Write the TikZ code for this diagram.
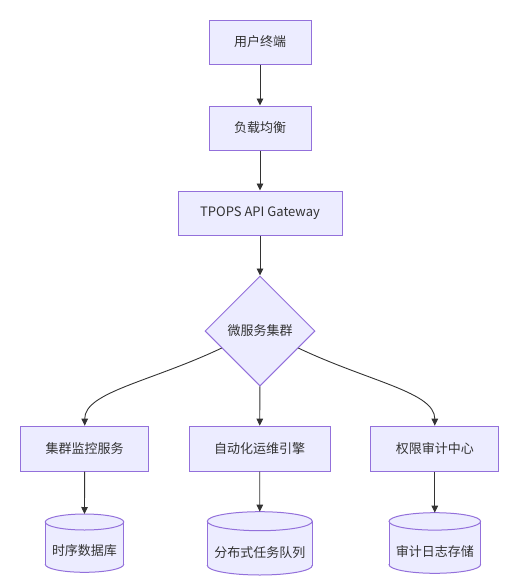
\documentclass[tikz,border=0pt]{standalone}
\usepackage{fontspec}
\setmainfont{Noto Sans CJK SC}
\usetikzlibrary{shapes.geometric,arrows.meta}
\definecolor{nfill}{HTML}{ECECFF}
\definecolor{nstroke}{HTML}{9370DB}
\definecolor{ink}{HTML}{333333}
\tikzset{
  box/.style={draw=nstroke,fill=nfill,line width=1pt,inner sep=0pt,font=\fontsize{13}{15}\selectfont,text=ink},
  dec/.style={diamond,aspect=1,draw=nstroke,fill=nfill,line width=1pt,inner sep=0pt,minimum width=110pt,minimum height=110pt,font=\fontsize{13}{15}\selectfont,text=ink},
  txt/.style={inner sep=0pt,font=\fontsize{13}{15}\selectfont,text=ink},
  link/.style={draw=ink,line width=0.9pt,-{Triangle[length=7pt,width=6.5pt]}},
  cylfill/.style={fill=nfill},
  cylstyle/.style={draw=nstroke,fill=nfill,line width=1pt},
  cylline/.style={draw=nstroke,line width=1pt}
}
\newcommand\mycyl[5]{%
  \fill[cylfill] (#1-#4,#2+#5) rectangle (#1+#4,#3-#5);
  \begin{scope}
    \clip (#1-#4-2,#3-#5) rectangle (#1+#4+2,#3+2);
    \filldraw[cylstyle] (#1,#3-#5) ellipse [x radius=#4, y radius=#5];
  \end{scope}
  \draw[cylline] (#1-#4,#2+#5) -- (#1-#4,#3-#5) (#1+#4,#2+#5) -- (#1+#4,#3-#5);
  \filldraw[cylstyle] (#1,#2+#5) ellipse [x radius=#4, y radius=#5];
}
\begin{document}
\begin{tikzpicture}[x=1pt,y=-1pt]
\useasboundingbox (0,0) rectangle (510,587);
% top chain
\node[box,minimum width=102pt,minimum height=44pt] (user) at (260,42) {用户终端};
\node[box,minimum width=102pt,minimum height=44pt] (lb) at (260,128) {负载均衡};
\node[box,minimum width=164pt,minimum height=44pt] (gw) at (260,213) {TPOPS API Gateway};
\node[dec] (ms) at (260,331) {微服务集群};
% services
\node[box,minimum width=128pt,minimum height=45pt] (mon) at (84.7,448.7) {集群监控服务};
\node[box,minimum width=141pt,minimum height=45pt] (auto) at (259.7,448.7) {自动化运维引擎};
\node[box,minimum width=128pt,minimum height=45pt] (aud) at (434.8,448.7) {权限审计中心};
% cylinders
\mycyl{84.5}{514}{572.3}{39.2}{8}
\mycyl{259.8}{511.7}{575}{52.5}{9.5}
\mycyl{434.8}{512.7}{573.3}{45.8}{8.7}
\node[txt] (tsdb) at (84.5,550.7) {时序数据库};
\node[txt] (queue) at (259.8,552.7) {分布式任务队列};
\node[txt] (logs) at (434.8,551.7) {审计日志存储};
\coordinate (tsdbtop) at (84.5,514);
\coordinate (queuetop) at (259.8,511.7);
\coordinate (logstop) at (434.8,512.7);
% connectors
\draw[link] (user) -- (lb);
\draw[link] (lb) -- (gw);
\draw[link] (gw) -- (ms);
\draw[link] (ms.204) .. controls (150,382) and (84.7,392) .. (mon.north);
\draw[link] (ms) -- (auto);
\draw[link] (ms.-24) .. controls (370,382) and (434.8,392) .. (aud.north);
\draw[link] (mon) -- (tsdbtop);
\draw[link] (auto) -- (queuetop);
\draw[link] (aud) -- (logstop);
\end{tikzpicture}
\end{document}
